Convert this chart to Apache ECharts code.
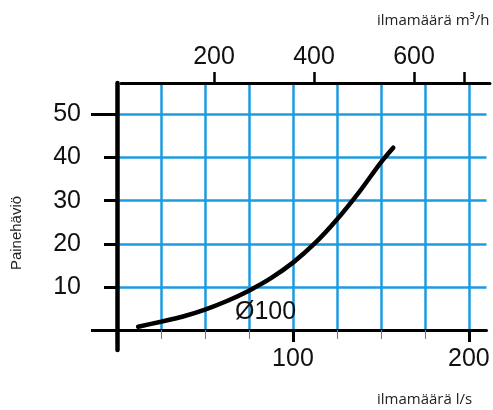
<!DOCTYPE html>
<html><head><meta charset="utf-8">
<script src="https://cdn.jsdelivr.net/npm/echarts@6/dist/echarts.min.js"></script>
<style>html,body{margin:0;padding:0;background:#fff}#c{width:493px;height:410px}</style>
</head><body><div id="c"></div>
<script>
// Data (flow in l/s, pressure loss in Pa)
const flowLs = [12, 25, 37.5, 50, 62.5, 75, 87.5, 100, 112.5, 125, 137.5, 150, 157];
const pressure = [0.75, 1.93, 3.13, 4.73, 6.73, 9.13, 12.03, 15.63, 20.13, 25.63, 31.93, 38.9, 42.3];
const xTicks = [25, 50, 75, 100, 125, 150, 175, 200];
const xLabels = [100, 200];
const yTicks = [10, 20, 30, 40, 50];
const yLongTicks = [0, 50];
const topTicks = [200, 400, 600, 700];
const topLabels = [200, 400, 600];
const curveName = 'Ø100';
const yTitle = 'Painehäviö';
const xTitle = 'ilmamäärä l/s';
const topTitle = 'ilmamäärä m³/h';

const BLUE = '#1d9be0';
const NUM_FONT = 'Liberation Sans';
const chart = echarts.init(document.getElementById('c'));
const numLabel = { fontSize: 25, fontFamily: NUM_FONT, color: '#111' };

chart.setOption({
  animation: false,
  backgroundColor: '#fff',
  grid: [
    { left: 117, right: 6.5, top: 83, bottom: 80 },
    { left: 117, right: 6.5, top: 83, bottom: 60 },
    { left: 121, right: 3, top: 83, bottom: 80 }
  ],
  xAxis: [
    { gridIndex: 0, type: 'value', min: 0, max: 210, position: 'bottom',
      axisLine: { onZero: false, lineStyle: { color: '#000', width: 3 } },
      axisTick: { customValues: xTicks, length: 9, lineStyle: { color: '#777', width: 1 } },
      axisLabel: Object.assign({ customValues: xLabels, margin: 17 }, numLabel),
      splitLine: { show: true, lineStyle: { color: BLUE, width: 2.5 } } },
    { gridIndex: 0, type: 'value', min: 0, max: 210, position: 'bottom',
      axisLine: { show: false, onZero: false },
      axisTick: { customValues: xLabels, length: 12, lineStyle: { color: '#000', width: 3 } },
      axisLabel: { show: false }, splitLine: { show: false } },
    { gridIndex: 1, type: 'value', min: 0, max: 210, show: false },
    { gridIndex: 2, type: 'value', min: 14, max: 752, position: 'top',
      axisLine: { onZero: false, lineStyle: { color: '#000', width: 3 } },
      axisTick: { customValues: topTicks, length: 11, lineStyle: { color: '#000', width: 2.5 } },
      axisLabel: Object.assign({ customValues: topLabels, margin: 13 }, numLabel),
      splitLine: { show: false } }
  ],
  yAxis: [
    { gridIndex: 0, type: 'value', min: 0, max: 57.3, position: 'left',
      axisLine: { show: false },
      axisTick: { customValues: yTicks, length: 13, lineStyle: { color: '#000', width: 3 } },
      axisLabel: Object.assign({ customValues: yTicks, margin: 36 }, numLabel),
      splitLine: { show: true, lineStyle: { color: BLUE, width: 2.5 } } },
    { gridIndex: 0, type: 'value', min: 0, max: 57.3, position: 'left',
      axisLine: { show: false },
      axisTick: { customValues: yLongTicks, length: 26, lineStyle: { color: '#000', width: 3 } },
      axisLabel: { show: false }, splitLine: { show: false } },
    { gridIndex: 1, type: 'value', min: 0, max: 1, position: 'left',
      axisLine: { show: true, lineStyle: { color: '#000', width: 4.5 } },
      axisTick: { show: false }, axisLabel: { show: false }, splitLine: { show: false } },
    { gridIndex: 2, type: 'value', min: 0, max: 1, show: false }
  ],
  series: [{
    type: 'line', name: curveName, xAxisIndex: 0, yAxisIndex: 0,
    data: flowLs.map((x, i) => [x, pressure[i]]),
    smooth: 0.3, showSymbol: false, z: 5,
    lineStyle: { color: '#000', width: 4.5, cap: 'round' }
  }],
  graphic: [
    { type: 'text', left: 235, top: 300, z: 10,
      style: { text: curveName, fontSize: 25, fontFamily: NUM_FONT, fill: '#111' } },
    { type: 'text', x: 17, y: 233, rotation: Math.PI / 2,
      style: { text: yTitle, fontSize: 15, fontFamily: 'Liberation Sans', fill: '#222', align: 'center', verticalAlign: 'middle' } },
    { type: 'text', left: 377, top: 13,
      style: { text: topTitle, fontSize: 15, fontFamily: 'Open Sans', fill: '#222' } },
    { type: 'text', left: 377, top: 392,
      style: { text: xTitle, fontSize: 15, fontFamily: 'Open Sans', fill: '#222' } }
  ]
});
</script></body></html>
